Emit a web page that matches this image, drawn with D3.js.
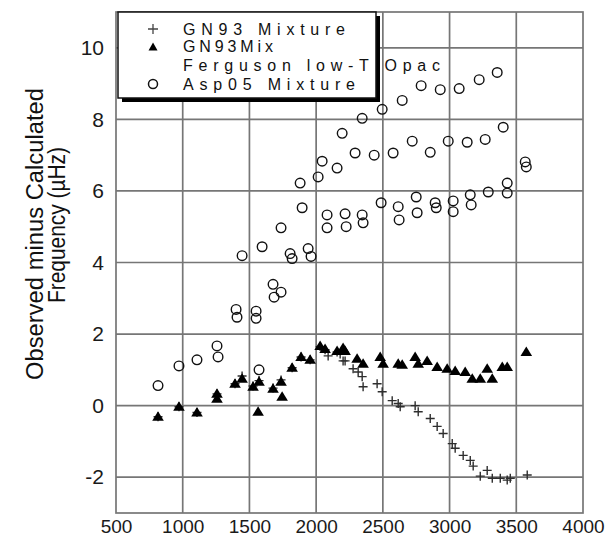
<!DOCTYPE html>
<html>
<head>
<meta charset="utf-8">
<script src="https://cdn.jsdelivr.net/npm/d3@7"></script>
<style>
  html, body { margin: 0; padding: 0; background: #fff; }
  svg { display: block; font-family: "Liberation Sans", Arial, Helvetica, sans-serif; }
</style>
</head>
<body>
<svg id="chart" width="609" height="539"></svg>
<script>
// Asp05 Mixture: open circles [frequency (µHz), residual (µHz)]
const asp05Mixture = [
  [3357, 9.31], [3222, 9.11], [3072, 8.86], [2930, 8.83], [2787, 8.94],
  [2645, 8.53], [2495, 8.28], [2345, 8.03], [2195, 7.61], [2292, 7.06],
  [2045, 6.83], [2157, 6.64], [2015, 6.39], [1880, 6.22], [1895, 5.53],
  [2082, 5.33], [2217, 5.36], [2082, 4.97], [2225, 5.00], [1737, 4.97],
  [1595, 4.44], [1445, 4.19], [1805, 4.25], [1820, 4.11], [1940, 4.39],
  [1962, 4.17], [1677, 3.39], [1737, 3.17], [1685, 3.03], [1400, 2.69],
  [1407, 2.47], [1550, 2.64], [1550, 2.44], [1257, 1.67], [1265, 1.36],
  [1107, 1.28], [972, 1.11], [815, 0.56], [1572, 1.00],
  [3402, 7.78], [3267, 7.44], [3132, 7.36], [2990, 7.39], [2855, 7.08],
  [2720, 7.39], [2577, 7.06], [2435, 7.00],
  [3567, 6.81], [3575, 6.67],
  [3432, 6.22], [3432, 5.94], [3290, 5.97], [3155, 5.89], [3162, 5.61],
  [3027, 5.72], [3027, 5.42], [2892, 5.67], [2900, 5.53], [2750, 5.83],
  [2757, 5.39], [2615, 5.56], [2622, 5.19], [2487, 5.67], [2345, 5.33],
  [2352, 5.11]
];

// GN93Mix, Ferguson low-T opacities: filled triangles
const gn93MixFerguson = [
  [815, -0.31], [972, -0.03], [1107, -0.19], [1257, 0.33], [1257, 0.19],
  [1392, 0.61], [1445, 0.75], [1527, 0.53], [1572, 0.67], [1565, -0.17],
  [1677, 0.47], [1737, 0.67], [1745, 0.25], [1820, 1.06], [1887, 1.36],
  [1955, 1.28], [2030, 1.67], [2067, 1.58], [2157, 1.53], [2202, 1.61],
  [2217, 1.53], [2307, 1.31], [2352, 1.17], [2480, 1.36], [2502, 1.17],
  [2615, 1.17], [2645, 1.14], [2742, 1.36], [2765, 1.17], [2832, 1.25],
  [2907, 1.08], [2982, 1.03], [3042, 0.97], [3117, 0.94], [3170, 0.75],
  [3230, 0.75], [3282, 1.03], [3320, 0.75], [3395, 1.08], [3432, 1.08],
  [3575, 1.50]
];

// GN93 Mixture: crosses
const gn93Mixture = [
  [815, -0.31], [972, -0.03], [1107, -0.19], [1257, 0.33], [1392, 0.61],
  [1445, 0.83], [1527, 0.55], [1572, 0.70], [1677, 0.49], [1737, 0.72],
  [1820, 1.06], [1887, 1.36], [1955, 1.28], [2030, 1.65], [2067, 1.56],
  [2090, 1.39], [2157, 1.50], [2180, 1.44], [2202, 1.25], [2217, 1.25],
  [2277, 1.03], [2315, 0.94], [2345, 0.81], [2352, 0.53], [2457, 0.61],
  [2495, 0.39], [2570, 0.14], [2615, 0.06], [2630, -0.03], [2742, 0.00],
  [2765, -0.17], [2855, -0.36], [2907, -0.58], [2952, -0.78], [3020, -1.06],
  [3042, -1.19], [3102, -1.39], [3155, -1.53], [3177, -1.69], [3282, -1.81],
  [3230, -1.97], [3320, -2.03], [3380, -2.03], [3432, -2.08], [3455, -2.03],
  [3582, -1.94]
];

const xTicks = [500, 1000, 1500, 2000, 2500, 3000, 3500, 4000];
const yTicks = [-2, 0, 2, 4, 6, 8, 10];
const legendLabels = ["GN93 Mixture", "GN93Mix", "Ferguson low-T Opac", "Asp05 Mixture"];

const svg = d3.select("#chart");
const plot = { left: 116, right: 583, top: 12, bottom: 513 };

const x = d3.scaleLinear().domain([500, 4000]).range([plot.left, plot.right]);
const y = d3.scaleLinear().domain([-3, 11]).range([plot.bottom, plot.top]);

const gridColor = "#767676";
const plainNumber = d => String(d);   // keeps an ASCII hyphen for negatives

// grid lines
svg.append("g")
  .selectAll("line")
  .data(xTicks.slice(1, -1))
  .join("line")
  .attr("x1", d => x(d)).attr("x2", d => x(d))
  .attr("y1", plot.top).attr("y2", plot.bottom)
  .attr("stroke", gridColor).attr("stroke-width", 1.7);

svg.append("g")
  .selectAll("line")
  .data(yTicks)
  .join("line")
  .attr("x1", plot.left).attr("x2", plot.right)
  .attr("y1", d => y(d)).attr("y2", d => y(d))
  .attr("stroke", gridColor).attr("stroke-width", 1.7);

// plot frame
svg.append("rect")
  .attr("x", plot.left).attr("y", plot.top)
  .attr("width", plot.right - plot.left).attr("height", plot.bottom - plot.top)
  .attr("fill", "none").attr("stroke", gridColor).attr("stroke-width", 1.7);

// axes (labels only; the frame and grid carry the lines)
const xAxis = svg.append("g")
  .attr("transform", `translate(0,${plot.bottom})`)
  .call(d3.axisBottom(x).tickValues(xTicks).tickSize(0).tickPadding(0).tickFormat(plainNumber));
xAxis.select(".domain").remove();
xAxis.selectAll("text")
  .attr("y", 20).attr("dy", 0)
  .attr("font-size", 19).attr("fill", "#1a1a1a")
  .attr("font-family", "Liberation Sans, Arial, sans-serif");

const yAxis = svg.append("g")
  .attr("transform", `translate(${plot.left},0)`)
  .call(d3.axisLeft(y).tickValues(yTicks).tickSize(0).tickPadding(12).tickFormat(plainNumber));
yAxis.select(".domain").remove();
yAxis.selectAll("text")
  .attr("font-size", 21).attr("fill", "#1a1a1a")
  .attr("font-family", "Liberation Sans, Arial, sans-serif");

// y-axis title
const yTitle = svg.append("g").attr("fill", "#111").attr("font-size", 23);
yTitle.append("text")
  .attr("transform", "translate(43,234) rotate(-90)")
  .attr("text-anchor", "middle")
  .attr("textLength", 292).attr("lengthAdjust", "spacingAndGlyphs")
  .text("Observed minus Calculated");
yTitle.append("text")
  .attr("transform", "translate(65,225) rotate(-90)")
  .attr("text-anchor", "middle")
  .attr("textLength", 156).attr("lengthAdjust", "spacingAndGlyphs")
  .text("Frequency (µHz)");

// marker shapes
const crossPath = s => `M${-s},0H${s}M0,${-s}V${s}`;
const triPath = "M0,-5.5L5.8,4L-5.8,4Z";

// crosses
svg.append("g")
  .selectAll("path")
  .data(gn93Mixture)
  .join("path")
  .attr("transform", d => `translate(${x(d[0])},${y(d[1])})`)
  .attr("d", crossPath(4.5))
  .attr("fill", "none").attr("stroke", "#2e2e2e").attr("stroke-width", 1.4);

// triangles
svg.append("g")
  .selectAll("path")
  .data(gn93MixFerguson)
  .join("path")
  .attr("transform", d => `translate(${x(d[0])},${y(d[1])})`)
  .attr("d", triPath)
  .attr("fill", "#000");

// open circles
svg.append("g")
  .selectAll("circle")
  .data(asp05Mixture)
  .join("circle")
  .attr("cx", d => x(d[0])).attr("cy", d => y(d[1]))
  .attr("r", 4.8)
  .attr("fill", "none").attr("stroke", "#111").attr("stroke-width", 1.4);

// legend box with drop shadow on right and bottom
const lg = svg.append("g");
lg.append("rect")
  .attr("x", 122).attr("y", 16).attr("width", 258).attr("height", 86)
  .attr("fill", "#000");
lg.append("rect")
  .attr("x", 118).attr("y", 12).attr("width", 258).attr("height", 86)
  .attr("fill", "#fff").attr("stroke", "#111").attr("stroke-width", 1.5);

const legendRows = [
  { label: legendLabels[0], base: 35, len: 162, mark: "cross", my: 29 },
  { label: legendLabels[1], base: 52, len: 90, mark: "tri", my: 47 },
  { label: legendLabels[2], base: 71, len: 257, mark: null, my: 0 },
  { label: legendLabels[3], base: 90, len: 172, mark: "circle", my: 84 }
];

legendRows.forEach(r => {
  lg.append("text")
    .attr("x", 183).attr("y", r.base)
    .attr("font-size", 16).attr("fill", "#111")
    .attr("textLength", r.len).attr("lengthAdjust", "spacing")
    .text(r.label);
  if (r.mark === "cross") {
    lg.append("path").attr("transform", `translate(153,${r.my})`)
      .attr("d", crossPath(5)).attr("stroke", "#444").attr("stroke-width", 1.3);
  } else if (r.mark === "tri") {
    lg.append("path").attr("transform", `translate(153,${r.my})`)
      .attr("d", "M0,-4.5L4.5,3.5L-4.5,3.5Z").attr("fill", "#000");
  } else if (r.mark === "circle") {
    lg.append("circle").attr("cx", 153).attr("cy", r.my).attr("r", 4.5)
      .attr("fill", "none").attr("stroke", "#111").attr("stroke-width", 1.5);
  }
});
</script>
</body>
</html>
